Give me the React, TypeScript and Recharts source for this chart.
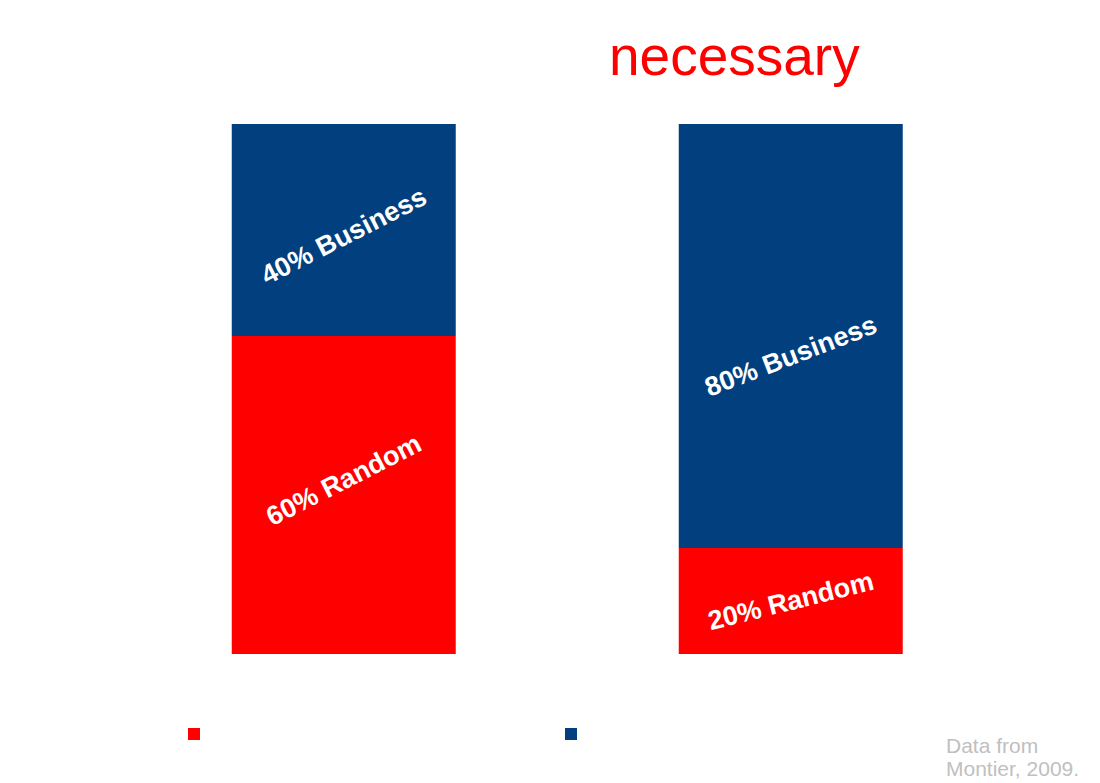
import { BarChart, Bar, XAxis, YAxis, LabelList, Legend } from 'recharts'

const CATEGORIES = ['Before', 'After']
const RANDOM = [60, 20]
const BUSINESS = [40, 80]
const SERIES = ['Random', 'Business']

const RED = '#ff0000'
const BLUE = '#023f7e'
const FONT = '"Liberation Sans", Arial, Helvetica, sans-serif'

// the rotated labels are not all at the same angle in the original
const LABEL_STYLE: Record<string, { angle: number; dy: number }[]> = {
  Random: [{ angle: -27, dy: -15 }, { angle: -14, dy: 0 }],
  Business: [{ angle: -27, dy: 6 }, { angle: -21, dy: 20 }],
}

const data = CATEGORIES.map((name, i) => ({
  name,
  Random: RANDOM[i],
  Business: BUSINESS[i],
}))

const makeLabel = (series: string) => (props: any) => {
  const { x, y, width, height, value, index } = props
  const style = LABEL_STYLE[series][index] || { angle: -25, dy: 0 }
  const cx = Number(x) + Number(width) / 2
  const cy = Number(y) + Number(height) / 2 + style.dy
  return (
    <text
      x={cx}
      y={cy}
      fill="#ffffff"
      fontFamily={FONT}
      fontWeight="bold"
      fontSize={27}
      textAnchor="middle"
      dominantBaseline="central"
      transform={`rotate(${style.angle}, ${cx}, ${cy})`}
    >
      {`${value}% ${series}`}
    </text>
  )
}

const SquareLegend = ({ payload }: any) => {
  const items = SERIES.map((key) => (payload || []).find((p: any) => p.dataKey === key)).filter(Boolean)
  return (
    <div style={{ position: 'relative', width: 400, height: 12 }}>
      {items.map((entry: any, i: number) => (
        <div
          key={`sq-${i}`}
          style={{
            position: 'absolute',
            left: i * 377,
            top: 0,
            width: 12,
            height: 12,
            background: entry.color,
          }}
        />
      ))}
    </div>
  )
}

export default function App() {
  return (
    <div style={{ position: 'absolute', left: 0, top: 0, width: 1100, height: 783, background: '#fff' }}>
      <BarChart
        width={1100}
        height={783}
        data={data}
        margin={{ top: 124, right: 86, bottom: 129, left: 120 }}
        barCategoryGap="25%"
      >
        <XAxis dataKey="name" hide />
        <YAxis domain={[0, 100]} hide />
        <Legend
          layout="horizontal"
          verticalAlign="middle"
          content={<SquareLegend />}
          wrapperStyle={{ left: 188, top: 728, width: 400, height: 12 }}
        />
        <Bar dataKey="Random" stackId="a" fill={RED} isAnimationActive={false}>
          <LabelList dataKey="Random" content={makeLabel('Random')} />
        </Bar>
        <Bar dataKey="Business" stackId="a" fill={BLUE} isAnimationActive={false}>
          <LabelList dataKey="Business" content={makeLabel('Business')} />
        </Bar>
      </BarChart>
      <svg
        width={1100}
        height={783}
        style={{ position: 'absolute', left: 0, top: 0, pointerEvents: 'none' }}
      >
        <text x={609} y={75} fill={RED} fontFamily={FONT} fontSize={55}>
          necessary
        </text>
        <text x={946} y={753} fill="#c0c0c0" fontFamily={FONT} fontSize={21}>
          Data from
        </text>
        <text x={946} y={776} fill="#c0c0c0" fontFamily={FONT} fontSize={21}>
          Montier, 2009.
        </text>
      </svg>
    </div>
  )
}
